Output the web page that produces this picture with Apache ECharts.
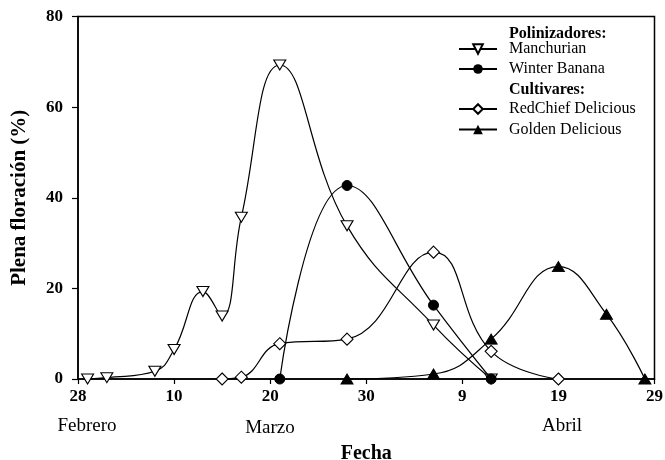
<!DOCTYPE html>
<html>
<head>
<meta charset="utf-8">
<script src="https://cdn.jsdelivr.net/npm/echarts@6/dist/echarts.min.js"></script>
<style>
html,body{margin:0;padding:0;background:#fff;}
#chart{width:665px;height:460px;}
</style>
</head>
<body>
<div id="chart"></div>
<script>
// Days counted from 28 February (0) ; ticks every 10 days
var dayTickLabels = ['28', '10', '20', '30', '9', '19', '29'];
var monthLabels = ['Febrero', 'Marzo', 'Abril'];

var manchurianDays = [1, 3, 8, 10, 13, 15, 17, 21, 28, 37, 43];
var manchurianVals = [0, 0.3, 1.7, 6.5, 19.3, 13.9, 35.7, 69.3, 33.8, 11.9, 0];

var winterBananaDays = [21, 28, 37, 43];
var winterBananaVals = [0, 42.7, 16.3, 0];

var redChiefDays = [15, 17, 21, 28, 37, 43, 50];
var redChiefVals = [0, 0.4, 7.8, 8.8, 28.0, 6.1, 0];

var goldenDays = [28, 37, 43, 50, 55, 59];
var goldenVals = [0, 1.1, 8.8, 24.8, 14.3, 0];

function pairs(xs, ys) { return xs.map(function (x, i) { return [x, ys[i]]; }); }

var FONT = 'Liberation Serif';
var chart = echarts.init(document.getElementById('chart'));

var baseLine = { color: '#000', width: 1.2 };
var legendText = { fontFamily: FONT, fontSize: 16, color: '#000', padding: [0, 0, 0, 7], lineHeight: 16 };
var option = {
  animation: false,
  backgroundColor: '#fff',
  grid: { left: 78, right: 10.5, top: 16.5, bottom: 81, show: true, borderColor: '#000', borderWidth: 1.5,
    containLabel: false, outerBoundsMode: 'none' },
  xAxis: {
    type: 'value', min: 0, max: 60, interval: 10,
    name: 'Fecha', nameLocation: 'middle', nameGap: 65,
    nameTextStyle: { fontFamily: FONT, fontSize: 20, fontWeight: 'bold', color: '#000' },
    axisLine: { show: true, lineStyle: { color: '#000', width: 1.5 } },
    axisTick: { show: true, inside: false, length: 5, lineStyle: { color: '#000', width: 1.2 } },
    axisLabel: { margin: 9, fontFamily: FONT, fontSize: 17, fontWeight: 'bold', color: '#000',
      formatter: function (v) { return dayTickLabels[Math.round(v / 10)]; } },
    splitLine: { show: false }
  },
  yAxis: {
    type: 'value', min: 0, max: 80, interval: 20,
    name: 'Plena floración (%)', nameLocation: 'middle', nameGap: 48,
    nameTextStyle: { fontFamily: FONT, fontSize: 21, fontWeight: 'bold', color: '#000' },
    axisLine: { show: true, lineStyle: { color: '#000', width: 1.5 } },
    axisTick: { show: true, inside: false, length: 6, lineStyle: { color: '#000', width: 1.2 } },
    axisLabel: { margin: 15, fontFamily: FONT, fontSize: 17, fontWeight: 'bold', color: '#000' },
    splitLine: { show: false }
  },
  legend: [
    {
      data: ['Manchurian', 'Winter Banana'], orient: 'vertical', left: 453, top: 36,
      itemWidth: 38, itemHeight: 12, itemGap: 4, padding: 5,
      textStyle: legendText
    },
    {
      data: ['RedChief Delicious', 'Golden Delicious'], orient: 'vertical', left: 453, top: 96,
      itemWidth: 38, itemHeight: 12, itemGap: 4.5, padding: 5,
      textStyle: legendText
    }
  ],
  graphic: [
    { type: 'text', left: 509, top: 26, style: { text: 'Polinizadores:', font: 'bold 16px "Liberation Serif"', fill: '#000' } },
    { type: 'text', left: 509, top: 82, style: { text: 'Cultivares:', font: 'bold 16px "Liberation Serif"', fill: '#000' } },
    { type: 'text', x: 87, y: 426, style: { text: monthLabels[0], font: '19px "Liberation Serif"', fill: '#000', align: 'center', verticalAlign: 'middle' } },
    { type: 'text', x: 270, y: 428, style: { text: monthLabels[1], font: '19px "Liberation Serif"', fill: '#000', align: 'center', verticalAlign: 'middle' } },
    { type: 'text', x: 562, y: 426, style: { text: monthLabels[2], font: '19px "Liberation Serif"', fill: '#000', align: 'center', verticalAlign: 'middle' } }
  ],
  series: [
    {
      name: 'Manchurian', type: 'line', smooth: 0.45, data: pairs(manchurianDays, manchurianVals),
      symbol: 'triangle', symbolRotate: 180, symbolSize: [12, 10],
      lineStyle: baseLine, itemStyle: { color: '#fff', borderColor: '#000', borderWidth: 1.1 }, z: 3
    },
    {
      name: 'Winter Banana', type: 'line', smooth: 0.45, data: pairs(winterBananaDays, winterBananaVals),
      symbol: 'circle', symbolSize: 10,
      lineStyle: baseLine, itemStyle: { color: '#000', borderColor: '#000' }, z: 4
    },
    {
      name: 'RedChief Delicious', type: 'line', smooth: 0.45, data: pairs(redChiefDays, redChiefVals),
      symbol: 'diamond', symbolSize: [12, 12],
      lineStyle: baseLine, itemStyle: { color: '#fff', borderColor: '#000', borderWidth: 1.1 }, z: 3
    },
    {
      name: 'Golden Delicious', type: 'line', smooth: 0.45, data: pairs(goldenDays, goldenVals),
      symbol: 'triangle', symbolSize: [12, 10],
      lineStyle: baseLine, itemStyle: { color: '#000', borderColor: '#000' }, z: 4
    }
  ]
};
chart.setOption(option);
</script>
</body>
</html>
